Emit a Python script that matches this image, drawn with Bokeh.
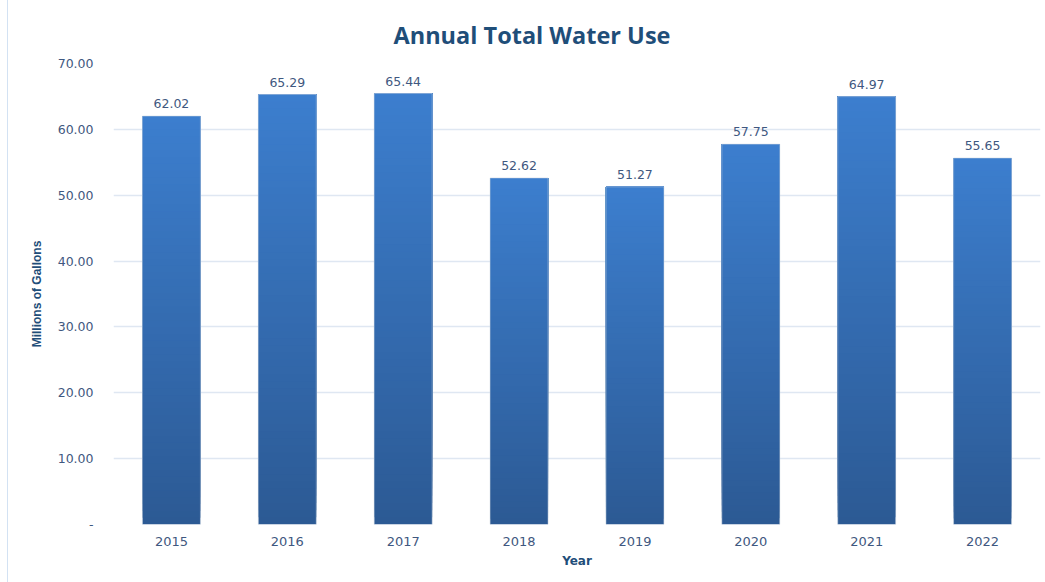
from bokeh.plotting import figure
from bokeh.models import (ColumnDataSource, FixedTicker, NumeralTickFormatter,
                          LabelSet, Title)
from bokeh.core.properties import value
from bokeh.embed import file_html
from bokeh.resources import INLINE

years = ["2015", "2016", "2017", "2018", "2019", "2020", "2021", "2022"]
usage = [62.02, 65.29, 65.44, 52.62, 51.27, 57.75, 64.97, 55.65]
y_ticks = [0, 10, 20, 30, 40, 50, 60, 70]

TOP = (0x3C, 0x7E, 0xCE)
BOT = (0x2C, 0x5A, 0x94)
N = 60

p = figure(width=1038, height=582, x_range=years, y_range=(0, 70),
           output_backend="svg", toolbar_location=None,
           min_border_left=105, min_border_right=6, min_border_top=63,
           min_border_bottom=58)
p.margin = (0, 0, 0, 7)
p.styles = {"border-left": "1.5px solid #d3e2f3", "box-sizing": "border-box"}
p.outline_line_color = None
p.background_fill_color = "white"
p.border_fill_color = "white"

# gradient bars built from the data values (each slice covers up to the bar top)
xs, bots, tops, cols = [], [], [], []
for i in range(N):
    f = i / (N - 1)
    c = "#%02x%02x%02x" % tuple(int(round(BOT[k] + (TOP[k] - BOT[k]) * f)) for k in range(3))
    for yr, v in zip(years, usage):
        xs.append(yr)
        bots.append(v * i / N)
        tops.append(v)
        cols.append(c)
gsrc = ColumnDataSource(dict(x=xs, bottom=bots, top=tops, color=cols))
p.vbar(x="x", bottom="bottom", top="top", width=0.5, fill_color="color",
       line_color=None, source=gsrc)

src = ColumnDataSource(dict(x=years, top=usage,
                            label=["%.2f" % v for v in usage]))
p.vbar(x="x", top="top", width=0.5, fill_color=None,
       line_color="#c9d3df", line_width=1, line_alpha=0.5, source=src)

labels = LabelSet(x="x", y="top", text="label", source=src,
                  text_align="center", text_baseline="bottom", y_offset=8,
                  text_font=value("DejaVu Sans"), text_font_size=value("12.5px"),
                  text_color="#3f5880")
p.add_layout(labels)

# axes
p.yaxis.ticker = FixedTicker(ticks=y_ticks)
p.yaxis.formatter = NumeralTickFormatter(format="0.00")
p.yaxis.major_label_overrides = {0: "-"}
for ax in (p.xaxis[0], p.yaxis[0]):
    ax.axis_line_color = None
    ax.major_tick_line_color = None
    ax.minor_tick_line_color = None
    ax.major_label_text_font = "DejaVu Sans"
    ax.major_label_text_color = "#3f5880"
p.yaxis.major_label_text_font_size = "12.5px"
p.xaxis.major_label_text_font_size = "13px"
p.yaxis.major_label_standoff = 14
p.xaxis.major_label_standoff = 6

p.yaxis.axis_label = "Millions of Gallons"
p.yaxis.axis_label_text_font = "Liberation Sans"
p.yaxis.axis_label_text_font_style = "bold"
p.yaxis.axis_label_text_font_size = "12px"
p.yaxis.axis_label_text_color = "#1f4e79"
p.yaxis.axis_label_standoff = 11

p.xaxis.axis_label = "Year"
p.xaxis.axis_label_text_font = "DejaVu Sans"
p.xaxis.axis_label_text_font_style = "bold"
p.xaxis.axis_label_text_font_size = "12px"
p.xaxis.axis_label_text_color = "#1f4e79"
p.xaxis.axis_label_standoff = 5

p.xgrid.grid_line_color = None
p.ygrid.grid_line_color = "#dfe7f2"
p.ygrid.grid_line_width = 1.5

t = Title(text="Annual Total Water Use", align="left",
          text_font="Open Sans", text_font_style="bold",
          text_font_size="23.5px", text_color="#1f4e79", offset=280,
          standoff=25)
p.add_layout(t, "above")

open("out.html", "w").write(file_html(p, INLINE))
